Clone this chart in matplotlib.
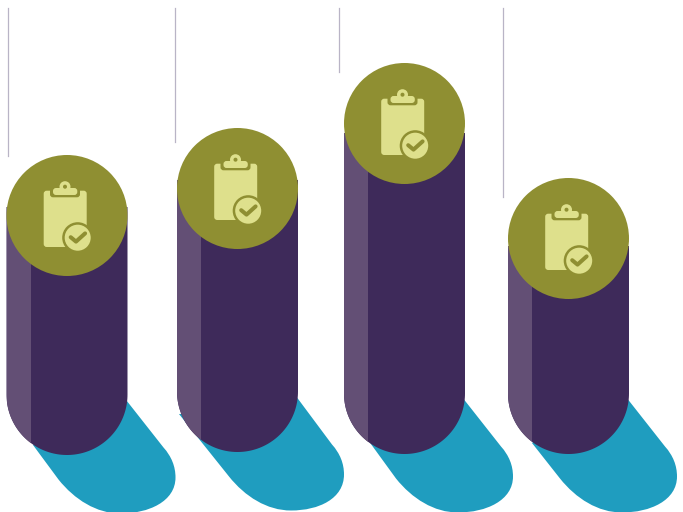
import matplotlib
matplotlib.use("Agg")
import matplotlib.pyplot as plt
import numpy as np
from matplotlib.patches import Circle, FancyBboxPatch, PathPatch, Rectangle
from matplotlib.path import Path

# columnas, en pixeles de la figura
centros_x = [67, 237.5, 404.5, 568.5]
centros_y = [215.5, 188.5, 123.5, 238.5]
topes = [207, 180, 133, 246]
bases = [455, 452, 454, 454]
lineas_x = [8, 175, 339, 503]
lineas_fin = [156, 142, 72, 197]
sombra_izq = [(33, 445), (179, 414), (368, 440), (532, 443)]
sombra_ancho = [49, 47, 49, 49]

MORADO = "#3e2a5a"
MORADO_CLARO = "#634f75"
OLIVA = "#8f8f32"
CREMA = "#dee08c"
AZUL = "#1f9dbf"
GRIS = "#b9b4c6"
R = 60.5


def sombra(ax, cx, base, izq, ancho):
    # lengua azul que sale por debajo de la columna
    x0, y0 = cx + R - 1, base - 54.5
    p = [(x0, y0), (x0 + ancho - 12, y0 + 47),
         (x0 + ancho - 4, y0 + 56), (x0 + ancho, y0 + 66), (x0 + ancho, y0 + 77),
         (x0 + ancho, y0 + 101), (x0 + 22, y0 + 113), (x0 - 6, y0 + 113),
         (x0 - 30, y0 + 113), (x0 - 52, y0 + 99), (x0 - 68, y0 + 79),
         izq, (cx, base - 40), (x0, y0)]
    cod = [Path.MOVETO, Path.LINETO,
           Path.CURVE4, Path.CURVE4, Path.CURVE4,
           Path.CURVE4, Path.CURVE4, Path.CURVE4,
           Path.CURVE4, Path.CURVE4, Path.CURVE4,
           Path.LINETO, Path.LINETO, Path.CLOSEPOLY]
    ax.add_patch(PathPatch(Path(p, cod), fc=AZUL, ec="none", zorder=1))


def columna(ax, cx, top, base):
    fondo = base - R
    t = np.linspace(0, np.pi, 90)
    xs = np.r_[cx + R, cx + R * np.cos(t), cx - R, cx + R]
    ys = np.r_[top, fondo + R * np.sin(t), top, top]
    cuerpo = Path(np.column_stack([xs, ys]))
    ax.add_patch(PathPatch(cuerpo, fc=MORADO, ec="none", zorder=2))
    # franja clara a la izquierda, recortada con la forma de la columna
    franja = Rectangle((cx - R, top), 24, base - top, fc=MORADO_CLARO, ec="none", zorder=3)
    ax.add_patch(franja)
    franja.set_clip_path(cuerpo, ax.transData)


def icono(ax, cx, cy):
    ax.add_patch(Circle((cx, cy), R, fc=OLIVA, ec="none", zorder=4))
    # hoja
    ax.add_patch(FancyBboxPatch((cx - 21.8, cy - 23.3), 40, 53.3, boxstyle="round,pad=1.5,rounding_size=3",
                                fc=CREMA, ec="none", zorder=5))
    # hueco oscuro bajo la pinza
    ax.add_patch(FancyBboxPatch((cx - 16, cy - 29), 28, 9.8, boxstyle="round,pad=1,rounding_size=3",
                                fc=OLIVA, ec="none", zorder=6))
    ax.add_patch(FancyBboxPatch((cx - 13.5, cy - 27), 23.3, 6, boxstyle="round,pad=0.5,rounding_size=3",
                                fc=CREMA, ec="none", zorder=7))
    ax.add_patch(Circle((cx - 2, cy - 28.8), 5.5, fc=CREMA, ec="none", zorder=7))
    ax.add_patch(Circle((cx - 2, cy - 28.8), 2, fc=OLIVA, ec="none", zorder=8))
    # sello con la marca
    bx, by = cx + 10.7, cy + 22.2
    ax.add_patch(Circle((bx, by), 15.5, fc=OLIVA, ec="none", zorder=8))
    ax.add_patch(Circle((bx, by), 13, fc=CREMA, ec="none", zorder=9))
    ax.plot([bx - 7, bx - 1.7, bx + 7.4], [by - 0.5, by + 3.9, by - 4.3], color=OLIVA, lw=2.9,
            solid_capstyle="round", solid_joinstyle="round", zorder=10)


fig = plt.figure(figsize=(6.83, 5.12), dpi=100)
ax = fig.add_axes([0, 0, 1, 1])
ax.set_xlim(0, 683)
ax.set_ylim(512, 0)
ax.axis("off")

for x, fin in zip(lineas_x, lineas_fin):
    ax.plot([x, x], [8, fin], color=GRIS, lw=0.9, zorder=1)

for cx, cy, top, base, izq, ancho in zip(centros_x, centros_y, topes, bases, sombra_izq, sombra_ancho):
    sombra(ax, cx, base, izq, ancho)
    columna(ax, cx, top, base)
    icono(ax, cx, cy)

fig.savefig("out.png", dpi=100)
